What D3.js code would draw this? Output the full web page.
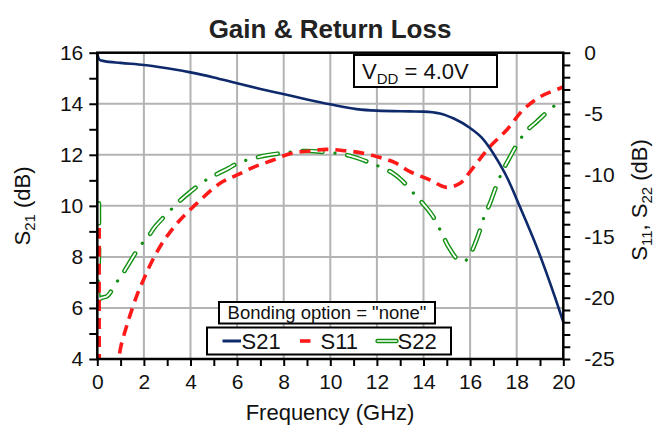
<!DOCTYPE html>
<html><head><meta charset="utf-8">
<script src="https://cdn.jsdelivr.net/npm/d3@7/dist/d3.min.js"></script>
<style>body{margin:0;background:#fff;}svg{display:block;font-family:"Liberation Sans",Arial,sans-serif;}</style>
</head><body>
<svg id="c" width="654" height="429"></svg>
<script>
// ---- data ----
const freqS21 = [0, 0.03, 0.1, 0.3, 1, 2, 3, 4, 5, 6, 7, 7.98, 9, 9.99, 11.13, 11.99, 13.42, 14.0, 14.7, 15.3, 16.0, 16.5, 16.85, 17.2, 17.57, 18.14, 18.86, 19.64, 20];
const s21 = [16.0, 15.85, 15.72, 15.67, 15.6, 15.52, 15.39, 15.23, 15.03, 14.8, 14.58, 14.38, 14.17, 13.98, 13.79, 13.73, 13.70, 13.69, 13.62, 13.42, 13.05, 12.67, 12.26, 11.75, 11.14, 9.96, 8.39, 6.43, 5.45];

const freqS11 = [0.08, 0.09, 0.15, 0.5, 0.9, 0.97, 1.26, 1.41, 1.7, 1.99, 2.3, 2.69, 3.1, 3.55, 4.27, 5.27, 5.98, 6.77, 7.55, 8.34, 9.13, 9.85, 10.63, 11.42, 12.13, 12.78, 13.42, 14.28, 14.99, 15.57, 16.0, 16.85, 17.57, 18.27, 19.0, 19.86, 20];
const s11 = [-14.3, -26, -32, -34, -27, -24.4, -22.3, -21.4, -19.8, -18.5, -17.2, -15.84, -14.7, -13.66, -12.3, -10.66, -10.0, -9.3, -8.76, -8.2, -8.02, -7.89, -8.0, -8.2, -8.55, -8.98, -9.71, -10.39, -10.99, -10.66, -9.71, -7.67, -6.31, -4.68, -3.6, -2.9, -2.8];

const freqS22 = [0.07, 0.075, 0.09, 0.19, 0.4, 0.55, 0.69, 1.0, 1.33, 1.83, 2.19, 2.48, 3.12, 3.48, 3.9, 4.62, 5.12, 5.62, 6.05, 6.95, 7.91, 8.87, 9.85, 10.81, 11.77, 12.66, 13.06, 13.7, 14.06, 14.42, 14.85, 15.06, 15.49, 15.78, 16.07, 16.42, 16.6, 16.85, 17.14, 17.38, 17.64, 18.14, 18.43, 18.86, 19.57, 20];
const s22 = [-12.3, -16, -20.1, -20.0, -19.9, -19.6, -19.1, -18.3, -17.3, -15.8, -15.0, -14.2, -12.9, -12.2, -11.5, -10.45, -9.93, -9.44, -9.0, -8.5, -8.2, -8.02, -8.13, -8.4, -9.03, -9.8, -10.4, -11.75, -12.5, -13.4, -15.0, -15.8, -16.9, -17.0, -16.2, -14.5, -13.4, -12.3, -10.8, -9.7, -8.76, -7.1, -6.37, -5.63, -4.4, -3.86];

const xTicks = [0, 2, 4, 6, 8, 10, 12, 14, 16, 18, 20];
const yLeftTicks = [4, 6, 8, 10, 12, 14, 16];
const yRightTicks = [0, -5, -10, -15, -20, -25];
const seriesNames = ["S21", "S11", "S22"];
const titleText = "Gain & Return Loss";
const bondingText = 'Bonding option = "none"';

// ---- layout ----
const L = 97.3, R = 563.3, T = 52.7, B = 359;
const svg = d3.select("#c");
const x = d3.scaleLinear().domain([0, 20]).range([L, R]);
const yL = d3.scaleLinear().domain([4, 16]).range([B, T]);
const yR = d3.scaleLinear().domain([-25, 0]).range([B, T]);

const navy = "#0f2a6b", red = "#ff1a1a", green = "#119011", grid = "#b3b3b3";

// grid
const g = svg.append("g");
g.selectAll("line.v").data(xTicks.slice(1, -1)).enter().append("line")
  .attr("x1", d => x(d)).attr("x2", d => x(d)).attr("y1", T).attr("y2", B)
  .attr("stroke", grid).attr("stroke-width", 2);
g.selectAll("line.h").data(yLeftTicks.slice(1, -1)).enter().append("line")
  .attr("y1", d => yL(d)).attr("y2", d => yL(d)).attr("x1", L).attr("x2", R)
  .attr("stroke", grid).attr("stroke-width", 2);

// clip
svg.append("clipPath").attr("id", "clip").append("rect")
  .attr("x", L - 2).attr("y", T - 2).attr("width", R - L + 4).attr("height", B - T + 2);

const curve = d3.curveCatmullRom.alpha(0.5);
const lineL = d3.line().x(d => x(d[0])).y(d => yL(d[1])).curve(d3.curveMonotoneX);
const lineR = d3.line().x(d => x(d[0])).y(d => yR(d[1])).curve(curve);
const d21 = freqS21.map((f, i) => [f, s21[i]]);
const d11 = freqS11.map((f, i) => [f, s11[i]]);
const d22 = freqS22.map((f, i) => [f, s22[i]]);

const plot = svg.append("g").attr("clip-path", "url(#clip)");
// S22: hollow dash + dot
plot.append("path").attr("d", lineR(d22)).attr("fill", "none").attr("stroke", green)
  .attr("stroke-width", 4.6).attr("stroke-linecap", "round").attr("stroke-dasharray", "20 25");
plot.append("path").attr("d", lineR(d22)).attr("fill", "none").attr("stroke", "#fff")
  .attr("stroke-width", 1.8).attr("stroke-linecap", "round").attr("stroke-dasharray", "20 25");
plot.append("path").attr("d", lineR(d22)).attr("fill", "none").attr("stroke", green)
  .attr("stroke-width", 3.2).attr("stroke-linecap", "round").attr("stroke-dasharray", "0.1 44.9")
  .attr("stroke-dashoffset", 12.5);
// S11
plot.append("path").attr("d", lineR(d11)).attr("fill", "none").attr("stroke", red)
  .attr("stroke-width", 3.6).attr("stroke-dasharray", "11 7");
// S21
plot.append("path").attr("d", lineL(d21)).attr("fill", "none").attr("stroke", navy)
  .attr("stroke-width", 2.6);

// axes
const fs = 21;
const axB = svg.append("g").attr("transform", `translate(0,${B})`)
  .call(d3.axisBottom(x).tickValues(d3.range(0, 21, 1)).tickSize(7).tickFormat(d => d % 2 === 0 ? d : ""));
const axL = svg.append("g").attr("transform", `translate(${L},0)`)
  .call(d3.axisLeft(yL).tickValues(d3.range(4, 17, 1)).tickSize(8).tickFormat(d => d % 2 === 0 ? d : ""));
const axR = svg.append("g").attr("transform", `translate(${R},0)`)
  .call(d3.axisRight(yR).tickValues(d3.range(-25, 1, 1)).tickSize(7).tickFormat(d => d % 5 === 0 ? d : ""));
[axB, axL, axR].forEach(a => {
  a.select(".domain").remove();
  a.selectAll(".tick line").attr("stroke", "#000").attr("stroke-width", 2);
  a.selectAll(".tick text").attr("font-size", fs).attr("fill", "#111")
    .attr("font-family", '"Liberation Sans",Arial,sans-serif');
});
axB.selectAll(".tick text").attr("y", 15);
axL.selectAll(".tick text").attr("x", -14);
axR.selectAll(".tick text").attr("x", 21);
// frame
svg.append("rect").attr("x", L).attr("y", T).attr("width", R - L).attr("height", B - T)
  .attr("fill", "none").attr("stroke", "#000").attr("stroke-width", 2.5);

// title
svg.append("text").attr("x", 330).attr("y", 38).attr("text-anchor", "middle")
  .attr("font-size", 26).attr("font-weight", "bold").attr("fill", "#222").text(titleText);
// x label
svg.append("text").attr("x", 330).attr("y", 420).attr("text-anchor", "middle")
  .attr("font-size", 22).attr("fill", "#111").text("Frequency (GHz)");
// left label
const ll = svg.append("text").attr("transform", `translate(30,206) rotate(-90)`)
  .attr("text-anchor", "middle").attr("font-size", 22).attr("fill", "#111");
ll.append("tspan").text("S");
ll.append("tspan").attr("font-size", 15).attr("dy", 5).text("21");
ll.append("tspan").attr("dy", -5).text(" (dB)");
// right label
const rl = svg.append("text").attr("transform", `translate(647,200) rotate(-90)`)
  .attr("text-anchor", "middle").attr("font-size", 22).attr("fill", "#111");
rl.append("tspan").text("S");
rl.append("tspan").attr("font-size", 15).attr("dy", 5).text("11");
rl.append("tspan").attr("dy", -5).text(", S");
rl.append("tspan").attr("font-size", 15).attr("dy", 5).text("22");
rl.append("tspan").attr("dy", -5).text(" (dB)");

// VDD box
svg.append("rect").attr("x", 354).attr("y", 55).attr("width", 143).attr("height", 32)
  .attr("fill", "#fff").attr("stroke", "#000").attr("stroke-width", 2);
const vt = svg.append("text").attr("x", 362).attr("y", 79).attr("font-size", 22).attr("fill", "#111");
vt.append("tspan").text("V");
vt.append("tspan").attr("font-size", 15).attr("dy", 5).text("DD");
vt.append("tspan").attr("dy", -5).text(" = 4.0V");

// bonding box
svg.append("rect").attr("x", 219).attr("y", 302).attr("width", 216).attr("height", 21.5)
  .attr("fill", "#fff").attr("stroke", "#000").attr("stroke-width", 2);
svg.append("text").attr("x", 327).attr("y", 319).attr("text-anchor", "middle")
  .attr("font-size", 18.5).attr("fill", "#111").text(bondingText);

// legend
svg.append("rect").attr("x", 207).attr("y", 327.5).attr("width", 244).attr("height", 27)
  .attr("fill", "#fff").attr("stroke", "#000").attr("stroke-width", 2);
const lgY = 341;
const lgItems = [
  { name: seriesNames[0], x0: 222.5, x1: 241, tx: 241.5 },
  { name: seriesNames[1], x0: 300, x1: 310.5, tx: 320.5 },
  { name: seriesNames[2], x0: 377.5, x1: 396.5, tx: 397.5 }
];
svg.append("line").attr("x1", lgItems[0].x0).attr("x2", lgItems[0].x1).attr("y1", lgY).attr("y2", lgY)
  .attr("stroke", navy).attr("stroke-width", 3);
svg.append("line").attr("x1", lgItems[1].x0).attr("x2", lgItems[1].x1).attr("y1", lgY).attr("y2", lgY)
  .attr("stroke", red).attr("stroke-width", 3.6);
svg.append("line").attr("x1", lgItems[2].x0).attr("x2", lgItems[2].x1).attr("y1", lgY).attr("y2", lgY)
  .attr("stroke", green).attr("stroke-width", 4.4).attr("stroke-linecap", "round");
svg.append("line").attr("x1", lgItems[2].x0).attr("x2", lgItems[2].x1).attr("y1", lgY).attr("y2", lgY)
  .attr("stroke", "#fff").attr("stroke-width", 1.6).attr("stroke-linecap", "round");
lgItems.forEach(it => {
  svg.append("text").attr("x", it.tx).attr("y", 349).attr("font-size", 22).attr("fill", "#111").text(it.name);
});
</script>
</body></html>
